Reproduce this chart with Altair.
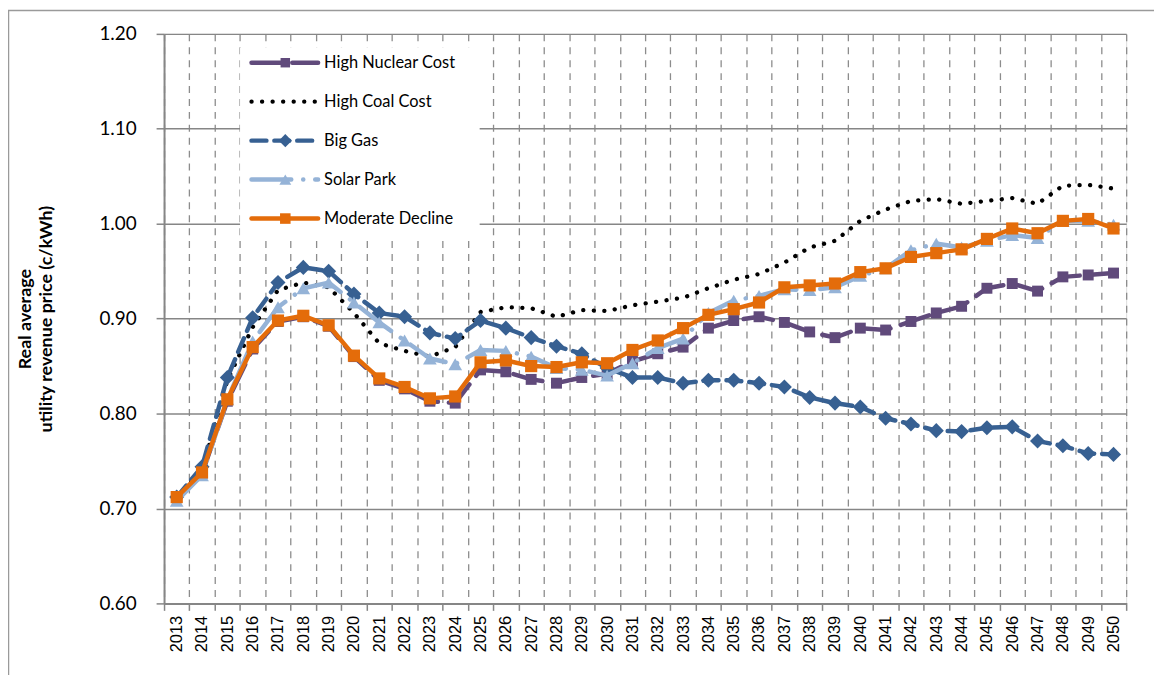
import altair as alt
import pandas as pd

years = list(range(2013, 2051))

high_nuclear = [0.712, 0.737, 0.813, 0.868, 0.897, 0.902, 0.892, 0.860, 0.835, 0.826,
                0.813, 0.811, 0.846, 0.844, 0.836, 0.832, 0.838, 0.842, 0.855, 0.863,
                0.870, 0.890, 0.898, 0.902, 0.896, 0.886, 0.880, 0.890, 0.888, 0.897,
                0.906, 0.913, 0.932, 0.937, 0.929, 0.944, 0.946, 0.948]
high_coal = [0.712, 0.740, 0.835, 0.891, 0.930, 0.938, 0.933, 0.906, 0.874, 0.866,
             0.860, 0.870, 0.907, 0.912, 0.911, 0.902, 0.909, 0.908, 0.914, 0.918,
             0.922, 0.932, 0.941, 0.947, 0.959, 0.975, 0.982, 1.003, 1.015, 1.024,
             1.026, 1.021, 1.024, 1.027, 1.021, 1.040, 1.041, 1.037]
big_gas = [0.712, 0.744, 0.838, 0.901, 0.938, 0.954, 0.950, 0.926, 0.906, 0.902,
           0.885, 0.879, 0.898, 0.890, 0.880, 0.871, 0.863, 0.848, 0.838, 0.838,
           0.832, 0.835, 0.835, 0.832, 0.828, 0.817, 0.811, 0.807, 0.795, 0.789,
           0.782, 0.781, 0.785, 0.786, 0.771, 0.766, 0.758, 0.757]
solar_park = [0.708, 0.735, 0.815, 0.876, 0.912, 0.932, 0.938, 0.917, 0.896, 0.877,
              0.858, 0.852, 0.867, 0.866, 0.860, 0.848, 0.846, 0.840, 0.853, 0.869,
              0.879, 0.906, 0.919, 0.924, 0.931, 0.930, 0.933, 0.945, 0.953, 0.972,
              0.979, 0.975, 0.982, 0.988, 0.985, 1.003, 1.003, 0.999]
moderate_decline = [0.712, 0.738, 0.815, 0.870, 0.898, 0.903, 0.893, 0.861, 0.837, 0.828,
                    0.816, 0.818, 0.854, 0.856, 0.850, 0.849, 0.854, 0.853, 0.867, 0.877,
                    0.890, 0.904, 0.910, 0.917, 0.933, 0.935, 0.937, 0.949, 0.953, 0.965,
                    0.969, 0.973, 0.984, 0.995, 0.990, 1.003, 1.005, 0.995]

series_names = ["High Nuclear Cost", "High Coal Cost", "Big Gas", "Solar Park", "Moderate Decline"]
series_values = [high_nuclear, high_coal, big_gas, solar_park, moderate_decline]

styles = {
    "High Nuclear Cost": dict(color="#604A7B", dash=[30, 11], width=4.5, shape="square", size=121),
    "High Coal Cost": dict(color="#000000", dash=[0.1, 10.5], width=4.3, shape=None, size=0),
    "Big Gas": dict(color="#376092", dash=[15, 8], width=4.5, shape="diamond", size=230),
    "Solar Park": dict(color="#95B3D7", dash=[40, 12, 0.1, 12], width=4.5, shape="triangle-up", size=190),
    "Moderate Decline": dict(color="#E46C0A", dash=[], width=4.5, shape="square", size=150),
}

FONT = "Lato"
W, H = 968, 573

x_scale = alt.Scale(domain=[2012.5, 2050.5], nice=False, zero=False)
y_scale = alt.Scale(domain=[0.6, 1.2], nice=False, zero=False)
boundaries = [2012.5 + k for k in range(39)]

x_axis = alt.Axis(values=boundaries, grid=True, gridDash=[7, 6], gridColor="#8C8C8C",
                  gridWidth=1.3, tickSize=7, tickColor="#868686", tickWidth=1.5,
                  domainColor="#868686", domainWidth=2,
                  labelExpr="datum.value < 2050 ? format(datum.value + 0.5, 'd') : ''",
                  labelAngle=-90, labelOffset=12.7, labelPadding=5, labelFont="Liberation Sans",
                  labelFontSize=16.5, labelColor="#000000", title=None)
y_axis = alt.Axis(values=[0.6, 0.7, 0.8, 0.9, 1.0, 1.1, 1.2], format=".2f", grid=True,
                  gridColor="#868686", gridWidth=1.5, tickSize=8, tickColor="#868686",
                  tickWidth=1.5, domainColor="#868686", domainWidth=2,
                  labelFont=FONT, labelFontSize=19, labelColor="#000000", labelPadding=20,
                  title=["Real average", "utility revenue price (c/kWh)"],
                  titleFont=FONT, titleFontSize=18, titleFontWeight="bold",
                  titleLineHeight=21, titlePadding=44, titleColor="#000000")

xenc = alt.X("year:Q", scale=x_scale, axis=x_axis)
yenc = alt.Y("value:Q", scale=y_scale, axis=y_axis)

layers = []
one = pd.DataFrame({"a": [0]})

for name, vals in zip(series_names, series_values):
    st = styles[name]
    df = pd.DataFrame({"year": years, "value": vals, "series": name})
    line_kw = dict(color=st["color"], strokeWidth=st["width"], strokeCap="round", strokeJoin="round")
    if st["dash"]:
        line_kw["strokeDash"] = st["dash"]
    layers.append(alt.Chart(df).mark_line(**line_kw).encode(x=xenc, y=yenc))
    if st["shape"]:
        layers.append(alt.Chart(df).mark_point(shape=st["shape"], size=st["size"], filled=True,
                                               color=st["color"], opacity=1).encode(x=xenc, y=yenc))

# outer frame (left and top edges)
layers.append(alt.Chart(one).mark_rule(color="#9A9A9A", strokeWidth=1.5).encode(
    x=alt.value(-156.5), y=alt.value(-23.5), y2=alt.value(H + 80)))
layers.append(alt.Chart(one).mark_rule(color="#9A9A9A", strokeWidth=1.5).encode(
    x=alt.value(-157), x2=alt.value(W + 30), y=alt.value(-23.5)))

# legend box
LX0, LX1, LY0, LY1 = 77, 317, 14, 204
layers.append(alt.Chart(one).mark_rect(fill="white", stroke="white").encode(
    x=alt.value(LX0), x2=alt.value(LX1), y=alt.value(LY0), y2=alt.value(LY1)))
for i, name in enumerate(series_names):
    st = styles[name]
    ly = 29 + 39.2 * i
    rk = dict(color=st["color"], strokeWidth=st["width"], strokeCap="round")
    if st["dash"]:
        rk["strokeDash"] = st["dash"]
    layers.append(alt.Chart(one).mark_rule(**rk).encode(
        x=alt.value(88), x2=alt.value(155), y=alt.value(ly)))
    if st["shape"]:
        layers.append(alt.Chart(one).mark_point(shape=st["shape"], size=st["size"] * 0.75,
                                                filled=True, color=st["color"], opacity=1).encode(
            x=alt.value(122), y=alt.value(ly)))
    layers.append(alt.Chart(one).mark_text(text=name, font=FONT, fontSize=16.5, color="#000000",
                                           align="left", baseline="middle").encode(
        x=alt.value(161), y=alt.value(ly)))

chart = alt.layer(*layers).properties(
    width=W, height=H,
    autosize=alt.AutoSizeParams(type="none"),
    padding={"left": 157, "top": 24, "right": 28, "bottom": 70},
).configure_view(strokeWidth=0).configure(background="white")

chart.save("out.html", embed_options={"renderer": "svg", "actions": False})
